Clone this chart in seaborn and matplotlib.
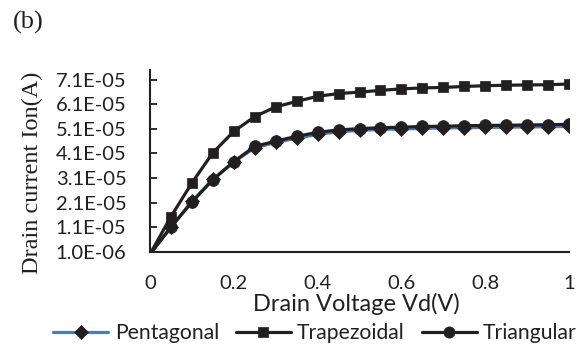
import numpy as np
import pandas as pd
import matplotlib
matplotlib.use("Agg")
import matplotlib.pyplot as plt
import seaborn as sns
from matplotlib.lines import Line2D

# ---- data ----
vd = [0.0, 0.05, 0.1, 0.15, 0.2, 0.25, 0.3, 0.35, 0.4, 0.45, 0.5,
      0.55, 0.6, 0.65, 0.7, 0.75, 0.8, 0.85, 0.9, 0.95, 1.0]
pentagonal = [0.0, 1.10, 2.15, 3.05, 3.75, 4.33, 4.55, 4.72, 4.88, 4.98, 5.04,
              5.08, 5.10, 5.12, 5.14, 5.15, 5.16, 5.17, 5.18, 5.19, 5.20]
trapezoidal = [0.0, 1.53, 2.90, 4.13, 5.00, 5.60, 6.00, 6.22, 6.43, 6.54, 6.60,
               6.67, 6.73, 6.77, 6.79, 6.83, 6.86, 6.88, 6.89, 6.90, 6.93]
triangular = [0.0, 1.10, 2.12, 3.03, 3.77, 4.39, 4.60, 4.80, 4.96, 5.06, 5.11,
              5.15, 5.17, 5.20, 5.21, 5.23, 5.24, 5.25, 5.26, 5.27, 5.29]
scale = 1e-5
series_names = ["Pentagonal", "Trapezoidal", "Triangular"]
x_ticks = [0, 0.2, 0.4, 0.6, 0.8, 1.0]
x_tick_labels = ["0", "0.2", "0.4", "0.6", "0.8", "1"]
y_ticks = [1.0e-6, 1.1e-5, 2.1e-5, 3.1e-5, 4.1e-5, 5.1e-5, 6.1e-5, 7.1e-5]

df = pd.DataFrame({
    "Vd": vd * 3,
    "Ion": [v * scale for v in pentagonal + trapezoidal + triangular],
    "Shape": sum([[n] * len(vd) for n in series_names], []),
})

sns.set_theme(style="white")
plt.rcParams["font.family"] = ["Lato", "DejaVu Sans"]

fig = plt.figure(figsize=(5.87, 3.47), dpi=100)
ax = fig.add_axes([150 / 587, 1 - 251.7 / 347, 419 / 587, 181.7 / 347])

blue = "#4A7EBB"
ink = "#231F20"
styles = {
    "Pentagonal": dict(color=blue, marker="D", ms=7.0),
    "Trapezoidal": dict(color=ink, marker="s", ms=7.5),
    "Triangular": dict(color=ink, marker="o", ms=8.5),
}
handles = []
for name in series_names:
    st = styles[name]
    sub = df[df["Shape"] == name]
    sns.lineplot(data=sub, x="Vd", y="Ion", ax=ax, color=st["color"], lw=2.3,
                 marker=st["marker"], markersize=st["ms"], markerfacecolor=ink,
                 markeredgecolor=ink, markeredgewidth=0.5,
                 markevery=list(range(1, len(vd))), legend=False, zorder=3)
    handles.append(Line2D([], [], color=st["color"], lw=2.3, marker=st["marker"],
                          markersize=st["ms"] * 0.95, markerfacecolor=ink,
                          markeredgecolor=ink, markeredgewidth=0.5))

ax.set_xlim(0, 1)
ax.set_ylim(1.0e-6, 7.5e-5)
ax.set_xticks(x_ticks)
ax.set_xticklabels(x_tick_labels)
ax.set_yticks(y_ticks)
ax.set_yticklabels([f"{v:.1E}" for v in y_ticks])
ax.tick_params(axis="x", length=0, pad=17, labelsize=14.5, colors=ink)
ax.tick_params(axis="y", direction="in", length=5, width=1.3, pad=17, labelsize=14.5,
               colors=ink, left=True)
for s in ["top", "right"]:
    ax.spines[s].set_visible(False)
for s in ["left", "bottom"]:
    ax.spines[s].set_color(ink)
    ax.spines[s].set_linewidth(1.5)

ax.set_xlabel("Drain Voltage Vd(V)", fontsize=17, color=ink)
ax.xaxis.set_label_coords((356 - 150) / 419, (251.7 - 293) / 181.7)
ax.set_ylabel("Drain current Ion(A)", fontsize=17.5, color=ink,
              family=["Liberation Serif", "DejaVu Serif"])
ax.yaxis.set_label_coords((43 - 150) / 419, (251.7 - 173) / 181.7)

fig.text(13 / 587, 1 - 22 / 347, "(b)", fontsize=19, va="center", ha="left",
         family=["Liberation Serif", "DejaVu Serif"], color=ink)

fig.legend(handles, series_names, ncol=3, loc="center",
           bbox_to_anchor=(315 / 587, 1 - 333 / 347), frameon=False,
           fontsize=15.2, handlelength=2.6, handletextpad=0.3, columnspacing=0.8,
           labelcolor=ink)

fig.savefig("out.png", dpi=100)
